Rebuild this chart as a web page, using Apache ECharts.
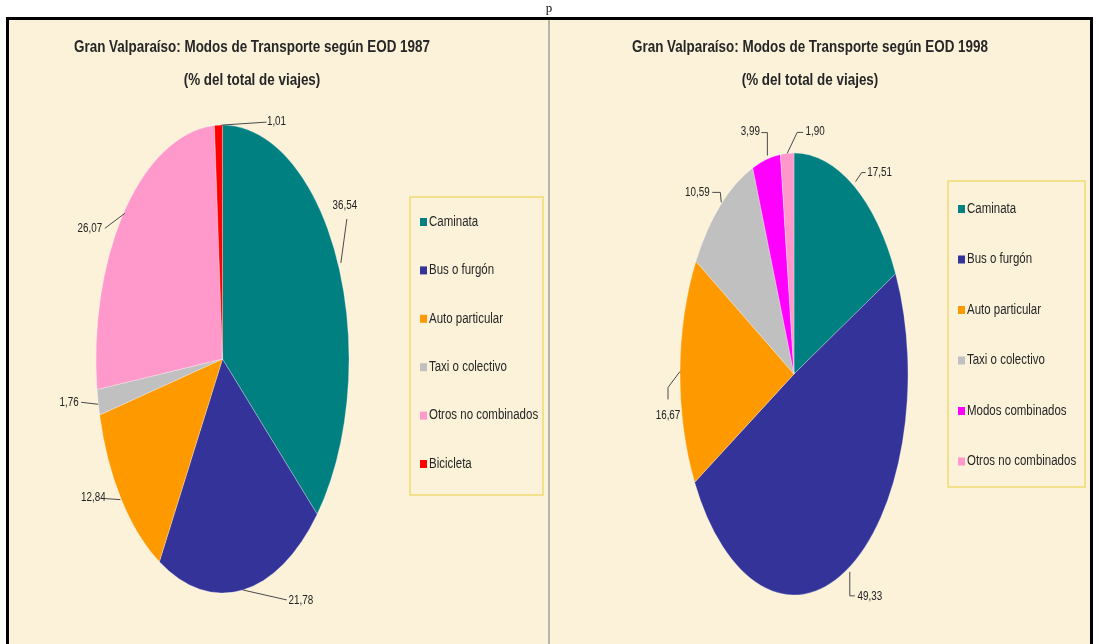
<!DOCTYPE html>
<html>
<head>
<meta charset="utf-8">
<script src="https://cdn.jsdelivr.net/npm/echarts@6/dist/echarts.min.js"></script>
<style>
  html, body { margin: 0; padding: 0; background: #ffffff; }
  #chart { width: 1099px; height: 644px; }
</style>
</head>
<body>
<div id="chart"></div>
<script>
// ---- data ----
const categories1987 = ['Caminata', 'Bus o furgón', 'Auto particular', 'Taxi o colectivo', 'Otros no combinados', 'Bicicleta'];
const values1987 = [36.54, 21.78, 12.84, 1.76, 26.07, 1.01];

const categories1998 = ['Caminata', 'Bus o furgón', 'Auto particular', 'Taxi o colectivo', 'Modos combinados', 'Otros no combinados'];
const values1998 = [17.51, 49.33, 16.67, 10.59, 3.99, 1.90];

const titleLines1987 = ['Gran Valparaíso: Modos de Transporte según EOD 1987', '(% del total de viajes)'];
const titleLines1998 = ['Gran Valparaíso: Modos de Transporte según EOD 1998', '(% del total de viajes)'];

// ---- styling ----
const palette = {
  'Caminata': '#008080',
  'Bus o furgón': '#333399',
  'Auto particular': '#FF9900',
  'Taxi o colectivo': '#C0C0C0',
  'Otros no combinados': '#FF99CC',
  'Bicicleta': '#FF0000',
  'Modos combinados': '#FF00FF'
};
const FONT = "'Liberation Sans', Arial, sans-serif";
const NARROW = 0.82;          // condensed look of the lettering
const TITLE_NARROW = 0.79;
const PAPER = '#FBF2D9';

// layout of the two panels; leader offsets are relative to the slice's rim point
const panels = [
  {
    cats: categories1987, vals: values1987, titles: titleLines1987,
    cx: 222.5, cy: 359, rx: 126.5, ry: 234, titleX: 252,
    legend: { x: 410, y: 197, w: 133, h: 298, first: 222, step: 48.4 },
    leaders: [
      { pts: [[3, 0], [9, -44]], text: [7, -57] },
      { pts: [[0, 0], [44, 10]], text: [58, 11] },
      { pts: [[-1, 0], [-16, -1]], text: [-28, -2] },
      { pts: [[0, 2], [-17, 0]], text: [-29, 0] },
      { pts: [[0, 3], [-20, 18]], text: [-35, 18] },
      { pts: [[3, 0], [48, -3]], text: [58, -3] }
    ]
  },
  {
    cats: categories1998, vals: values1998, titles: titleLines1998,
    cx: 794, cy: 374, rx: 114, ry: 221, titleX: 810,
    legend: { x: 948, y: 181, w: 137, h: 306, first: 209, step: 50.5 },
    leaders: [
      { pts: [[2, -4], [8, -13], [12, -13]], text: [26, -12.5] },
      { pts: [[2, 3], [2, 27], [7, 27]], text: [22, 28] },
      { pts: [[0, 0], [-12, 16], [-12, 28]], text: [-12, 44] },
      { pts: [[1, -3], [0, -13], [-8, -13]], text: [-23, -13] },
      { pts: [[1, -4], [1, -27], [-5, -27]], text: [-16, -28] },
      { pts: [[0, 0], [10, -21], [16, -21]], text: [28, -22] }
    ]
  }
];

const fmt = v => v.toFixed(2).replace('.', ',');

function pieRenderer(p) {
  const total = p.vals.reduce((s, v) => s + v, 0);
  const starts = [];
  let acc = 0;
  p.vals.forEach(v => { starts.push(acc); acc += v; });
  return function (params, api) {
    const i = params.dataIndex;
    const v = api.value(0);
    const a0 = starts[i] / total * Math.PI * 2;
    const a1 = (starts[i] + v) / total * Math.PI * 2;
    const mid = (a0 + a1) / 2;
    const ex = p.cx + p.rx * Math.sin(mid);
    const ey = p.cy - p.ry * Math.cos(mid);
    const L = p.leaders[i];
    const pts = L.pts.map(q => [ex + q[0], ey + q[1]]);
    return {
      type: 'group',
      children: [
        {
          type: 'sector',
          x: p.cx, y: p.cy, scaleX: p.rx / p.ry,
          shape: { cx: 0, cy: 0, r0: 0, r: p.ry, startAngle: a0 - Math.PI / 2, endAngle: a1 - Math.PI / 2, clockwise: true },
          style: { fill: palette[p.cats[i]], stroke: 'rgba(255,255,255,0.45)', lineWidth: 0.8, strokeNoScale: true }
        },
        {
          type: 'polyline',
          shape: { points: pts },
          style: { stroke: '#4a4a4a', lineWidth: 1, fill: 'none' }
        },
        {
          type: 'text',
          x: ex + L.text[0], y: ey + L.text[1], scaleX: NARROW,
          style: { text: fmt(v), fontSize: 12, fontFamily: FONT, fill: '#222', align: 'center', verticalAlign: 'middle' }
        }
      ]
    };
  };
}

// frame, titles and legends
const graphics = [
  { type: 'rect', shape: { x: 7.5, y: 18.5, width: 1084, height: 640 }, style: { fill: PAPER, stroke: '#000', lineWidth: 3 }, z: -10 },
  { type: 'line', shape: { x1: 549, y1: 20, x2: 549, y2: 644 }, style: { stroke: '#8a8a8a', lineWidth: 1.2 }, z: -5 },
  { type: 'text', x: 549, y: 2, style: { text: 'p', fontSize: 13, fontFamily: "'Liberation Serif', serif", fill: '#111', align: 'center', verticalAlign: 'top' } }
];

panels.forEach(p => {
  p.titles.forEach((t, k) => {
    graphics.push({
      type: 'text', x: p.titleX, y: 47 + k * 33, scaleX: TITLE_NARROW,
      style: { text: t, fontSize: 17, fontWeight: 'bold', fontFamily: FONT, fill: '#262626', align: 'center', verticalAlign: 'middle' }
    });
  });
  const lg = p.legend;
  graphics.push({ type: 'rect', shape: { x: lg.x, y: lg.y, width: lg.w, height: lg.h }, style: { fill: 'none', stroke: '#EFDA72', lineWidth: 1.5 } });
  p.cats.forEach((c, k) => {
    const yy = lg.first + k * lg.step;
    graphics.push({ type: 'rect', shape: { x: lg.x + 10, y: yy - 4, width: 7, height: 8 }, style: { fill: palette[c] } });
    graphics.push({
      type: 'text', x: lg.x + 19, y: yy, scaleX: NARROW,
      style: { text: c, fontSize: 14, fontFamily: FONT, fill: '#262626', align: 'left', verticalAlign: 'middle' }
    });
  });
});

const chart = echarts.init(document.getElementById('chart'), null, { renderer: 'canvas' });
chart.setOption({
  animation: false,
  backgroundColor: '#ffffff',
  graphic: graphics,
  series: panels.map((p, n) => ({
    type: 'custom',
    name: n === 0 ? 'EOD 1987' : 'EOD 1998',
    coordinateSystem: 'none',
    renderItem: pieRenderer(p),
    data: p.vals.map((v, i) => ({ name: p.cats[i], value: [v] })),
    silent: true
  }))
});
</script>
</body>
</html>
